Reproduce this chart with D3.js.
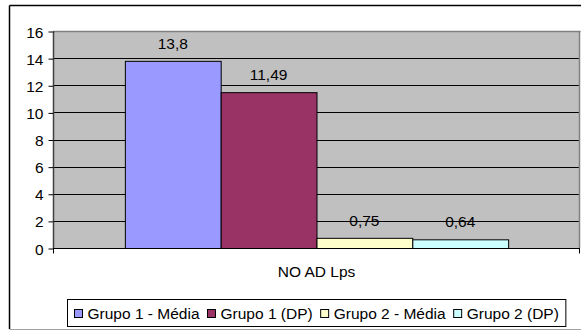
<!DOCTYPE html>
<html>
<head>
<meta charset="utf-8">
<script src="https://cdn.jsdelivr.net/npm/d3@7"></script>
<style>
  html, body { margin: 0; padding: 0; background: #fff; }
  svg { display: block; }
  text { font-family: "Liberation Sans", Arial, sans-serif; font-size: 15.5px; fill: #000; }
</style>
</head>
<body>
<svg id="chart" width="581" height="332"></svg>
<script>
// Chart data
const categories = ["NO AD Lps"];
const seriesNames = ["Grupo 1 - Média", "Grupo 1 (DP)", "Grupo 2 - Média", "Grupo 2 (DP)"];
const seriesValues = [13.8, 11.49, 0.75, 0.64];
const seriesColors = ["#9999FF", "#993366", "#FFFFCC", "#CCFFFF"];
const yTicks = [0, 2, 4, 6, 8, 10, 12, 14, 16];

const svg = d3.select("#chart");

// Plot area geometry
const plot = { left: 53, right: 580, top: 31, bottom: 248 };

// Outer chart frame
svg.append("line").attr("x1", 9.5).attr("x2", 581).attr("y1", 5.5).attr("y2", 5.5)
  .attr("stroke", "#000").attr("stroke-width", 1.5);
svg.append("line").attr("x1", 9.5).attr("x2", 9.5).attr("y1", 5.5).attr("y2", 329)
  .attr("stroke", "#000").attr("stroke-width", 1.5);
svg.append("line").attr("x1", 9.5).attr("x2", 581).attr("y1", 329.5).attr("y2", 329.5)
  .attr("stroke", "#a0a0a0").attr("stroke-width", 1);

// Scales
const y = d3.scaleLinear().domain([0, 16]).range([plot.bottom, plot.top]);
const x0 = d3.scaleBand().domain(categories).range([plot.left, plot.right])
  .paddingInner(0).paddingOuter(0.1875);
const x1 = d3.scaleBand().domain(seriesNames).range([0, x0.bandwidth()]).padding(0);

// Plot background
svg.append("rect")
  .attr("x", plot.left).attr("y", plot.top)
  .attr("width", plot.right - plot.left).attr("height", plot.bottom - plot.top)
  .attr("fill", "#C0C0C0");

// Horizontal gridlines
svg.append("g").selectAll("line").data(yTicks.filter(d => d > 0 && d < 16)).join("line")
  .attr("x1", plot.left).attr("x2", plot.right)
  .attr("y1", d => Math.round(y(d)) + 0.5).attr("y2", d => Math.round(y(d)) + 0.5)
  .attr("stroke", "#000").attr("stroke-width", 1);

// Plot border (top and right)
svg.append("line").attr("x1", plot.left).attr("x2", plot.right + 0.5)
  .attr("y1", plot.top + 0.5).attr("y2", plot.top + 0.5)
  .attr("stroke", "#808080").attr("stroke-width", 1.5);
svg.append("line").attr("x1", plot.right - 0.5).attr("x2", plot.right - 0.5)
  .attr("y1", plot.top).attr("y2", plot.bottom)
  .attr("stroke", "#808080").attr("stroke-width", 1.5);

// Bars
const g = svg.append("g");
categories.forEach(cat => {
  const gx = x0(cat);
  g.selectAll(null).data(seriesValues).join("rect")
    .attr("x", (d, i) => gx + x1(seriesNames[i]) + 0.5)
    .attr("y", d => y(d) + 0.5)
    .attr("width", x1.bandwidth())
    .attr("height", d => plot.bottom - y(d))
    .attr("fill", (d, i) => seriesColors[i])
    .attr("stroke", "#000").attr("stroke-width", 1);

  // Value labels
  g.selectAll(null).data(seriesValues).join("text")
    .attr("x", (d, i) => gx + x1(seriesNames[i]) + x1.bandwidth() / 2)
    .attr("y", d => y(d) - 12)
    .attr("text-anchor", "middle")
    .text(d => String(d).replace(".", ","));
});

// Y axis
const yAxis = d3.axisLeft(y).tickValues(yTicks).tickSize(5).tickPadding(5)
  .tickFormat(d3.format("d"));
const ya = svg.append("g").attr("transform", `translate(${plot.left + 0.5},0.5)`).call(yAxis);
ya.select(".domain").attr("stroke", "#404040").attr("stroke-width", 1.5)
  .attr("d", `M0,${plot.top}V${plot.bottom}`);
ya.selectAll(".tick line").attr("stroke", "#000");
ya.selectAll(".tick text").attr("font-size", null).attr("font-family", null)
  .attr("fill", "#000").attr("dy", "0.36em");

// Category axis
const xa = svg.append("g").attr("transform", `translate(0,${plot.bottom + 0.5})`);
xa.append("line").attr("x1", plot.left).attr("x2", plot.right)
  .attr("stroke", "#000").attr("stroke-width", 1);
[plot.left + 0.5, plot.right - 0.5].forEach(px => {
  xa.append("line").attr("x1", px).attr("x2", px).attr("y1", 0).attr("y2", 5)
    .attr("stroke", "#000");
});
xa.selectAll(null).data(categories).join("text")
  .attr("x", d => x0(d) + x0.bandwidth() / 2)
  .attr("y", 28)
  .attr("text-anchor", "middle")
  .text(d => d);

// Legend
const legend = svg.append("g");
const items = legend.selectAll("g").data(seriesNames).join("g");
items.append("rect")
  .attr("width", 8).attr("height", 8)
  .attr("fill", (d, i) => seriesColors[i])
  .attr("stroke", "#000").attr("stroke-width", 1);
items.append("text").attr("x", 13).attr("y", 4).attr("dy", "0.36em").text(d => d);

let cursor = 0;
const offsets = [];
items.each(function () {
  offsets.push(cursor);
  const w = d3.select(this).select("text").node().getComputedTextLength();
  cursor += 13 + w + 8;
});
const totalW = cursor - 8;
const boxPad = 7;
const boxW = totalW + boxPad * 2;
const boxX = Math.round((plot.left + plot.right) / 2 - boxW / 2);
const boxY = 299, boxH = 27;
legend.insert("rect", ":first-child")
  .attr("x", boxX + 0.5).attr("y", boxY + 0.5)
  .attr("width", boxW).attr("height", boxH)
  .attr("fill", "#fff").attr("stroke", "#000").attr("stroke-width", 1);
items.attr("transform", (d, i) => `translate(${boxX + boxPad + offsets[i] + 0.5},${boxY + 10.5})`);
</script>
</body>
</html>
